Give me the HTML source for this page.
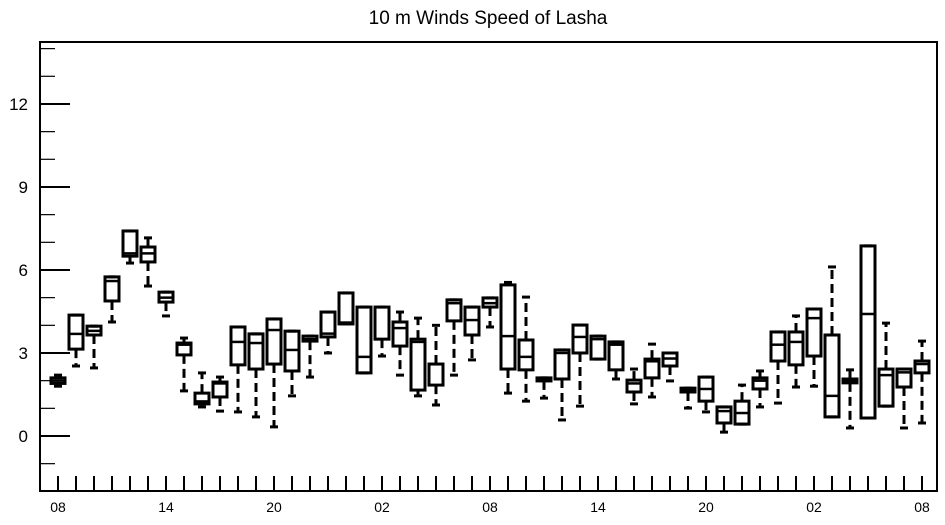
<!DOCTYPE html>
<html><head><meta charset="utf-8"><style>
body{margin:0;background:#fff;}
svg text{font-family:"Liberation Sans",sans-serif;}
</style></head><body>
<svg id="chart" width="945" height="520" xmlns="http://www.w3.org/2000/svg">
<text x="488" y="24" font-size="19" text-anchor="middle">10 m Winds Speed of Lasha</text>
<rect x="40" y="42" width="897" height="449" fill="none" stroke="#000" stroke-width="2"/>
<g id="axes"></g>
<g id="marks"></g>
</svg>
<script>
const xLabels = ["08","14","20","02","08","14","20","02","08"];
const yTicks = [0,3,6,9,12];
const boxHi = [2.1,4.37,3.97,5.75,7.41,6.83,5.2,3.36,1.55,1.95,3.94,3.69,4.23,3.79,3.61,4.48,5.17,4.66,4.66,4.12,3.5,2.6,4.92,4.66,4.99,5.46,3.47,2.1,3.11,4.01,3.61,3.4,2.02,2.78,3.0,1.73,2.13,1.05,1.26,2.1,3.76,3.76,4.59,3.65,2.06,6.87,2.42,2.42,2.71];
const boxLo = [1.9,3.14,3.65,4.88,6.5,6.29,4.84,2.93,1.16,1.41,2.57,2.42,2.6,2.35,3.43,3.58,4.05,2.28,3.5,3.25,1.66,1.84,4.16,3.65,4.66,2.42,2.39,1.99,2.06,3.0,2.78,2.39,1.59,2.1,2.53,1.59,1.26,0.47,0.43,1.7,2.71,2.57,2.89,0.69,1.92,0.65,1.08,1.77,2.28];
const medians = [2.0,3.69,3.8,5.6,6.6,6.6,5.0,3.3,1.25,1.9,3.4,3.36,3.83,3.11,3.5,3.7,4.1,2.86,3.5,3.9,3.4,2.6,4.8,4.19,4.8,3.61,2.86,2.05,3.0,3.58,3.5,3.3,1.9,2.7,2.8,1.66,1.7,0.9,0.83,2.0,3.3,3.4,4.26,1.45,2.0,4.41,2.2,2.3,2.6];
const wHi = [2.2,4.37,3.97,5.75,7.41,7.16,5.2,3.54,2.28,2.13,3.94,3.69,4.23,3.79,3.61,4.48,5.17,4.66,4.66,4.48,4.26,4.0,4.92,4.66,4.99,5.55,5.02,2.1,3.11,4.01,3.61,3.4,2.42,3.32,3.0,1.73,2.13,1.05,1.84,2.35,3.76,4.34,4.59,6.11,2.39,6.87,4.08,2.42,3.43];
const wLo = [1.8,2.53,2.46,4.12,6.25,5.42,4.34,1.63,1.05,0.9,0.87,0.69,0.33,1.45,2.13,3.0,4.05,2.28,2.89,2.2,1.45,1.12,2.2,2.75,3.94,1.55,1.26,1.37,0.58,1.08,2.78,2.06,1.16,1.41,1.99,1.01,0.87,0.14,0.43,1.05,1.19,1.77,1.8,0.69,0.29,0.65,1.08,0.29,0.47];

const NS="http://www.w3.org/2000/svg";
const yS = v => 436 - v*27.67;
const xS = i => 58 + i*18;
const axes=document.getElementById('axes'), marks=document.getElementById('marks');
function mk(tag,attrs,parent){const e=document.createElementNS(NS,tag);for(const k in attrs)e.setAttribute(k,attrs[k]);parent.appendChild(e);return e;}

for(let v=-1; v<=14; v++){
  const major = yTicks.includes(v);
  const t=mk('line',{x1:40,x2:major?70:55,y1:yS(v),y2:yS(v),stroke:'#000','stroke-width':major?2:1.2},axes);
  
  
}
yTicks.forEach(v=>{
  const t=mk('text',{x:28,y:yS(v)+6,'font-size':17,'text-anchor':'end'},axes);
  t.textContent=v;
  
  
});
for(let i=0;i<boxHi.length;i++){
  const t=mk('line',{x1:xS(i),x2:xS(i),y1:491,y2:476,stroke:'#000','stroke-width':2},axes);
  
  
}
xLabels.forEach((l,k)=>{
  const t=mk('text',{x:xS(k*6),y:512,'font-size':14,'text-anchor':'middle'},axes);
  t.textContent=l;
  
  
});

for(let i=0;i<boxHi.length;i++){
  const g=mk('g',{},marks);
  
  
  const x=xS(i);
  if(wLo[i]<boxLo[i]){
    const w=mk('line',{x1:x,x2:x,y1:yS(boxLo[i]),y2:yS(wLo[i]),stroke:'#000','stroke-width':3,'stroke-dasharray':'9,5'},g);
    
    
  }
  if(wHi[i]>boxHi[i]){
    const w=mk('line',{x1:x,x2:x,y1:yS(boxHi[i]),y2:yS(wHi[i]),stroke:'#000','stroke-width':3,'stroke-dasharray':'9,5'},g);
    
    
  }
  [wLo[i],wHi[i]].forEach(v=>{
    const c=mk('line',{x1:x-4,x2:x+4,y1:yS(v),y2:yS(v),stroke:'#000','stroke-width':3},g);
    
    
  });
  const r=mk('rect',{x:x-7,y:yS(boxHi[i]),width:14,height:Math.max(1,yS(boxLo[i])-yS(boxHi[i])),fill:'none',stroke:'#000','stroke-width':3},g);
  
  
  const m=mk('line',{x1:x-7,x2:x+7,y1:yS(medians[i]),y2:yS(medians[i]),stroke:'#000','stroke-width':2.5},g);
  
  
}
</script>
</body></html>
